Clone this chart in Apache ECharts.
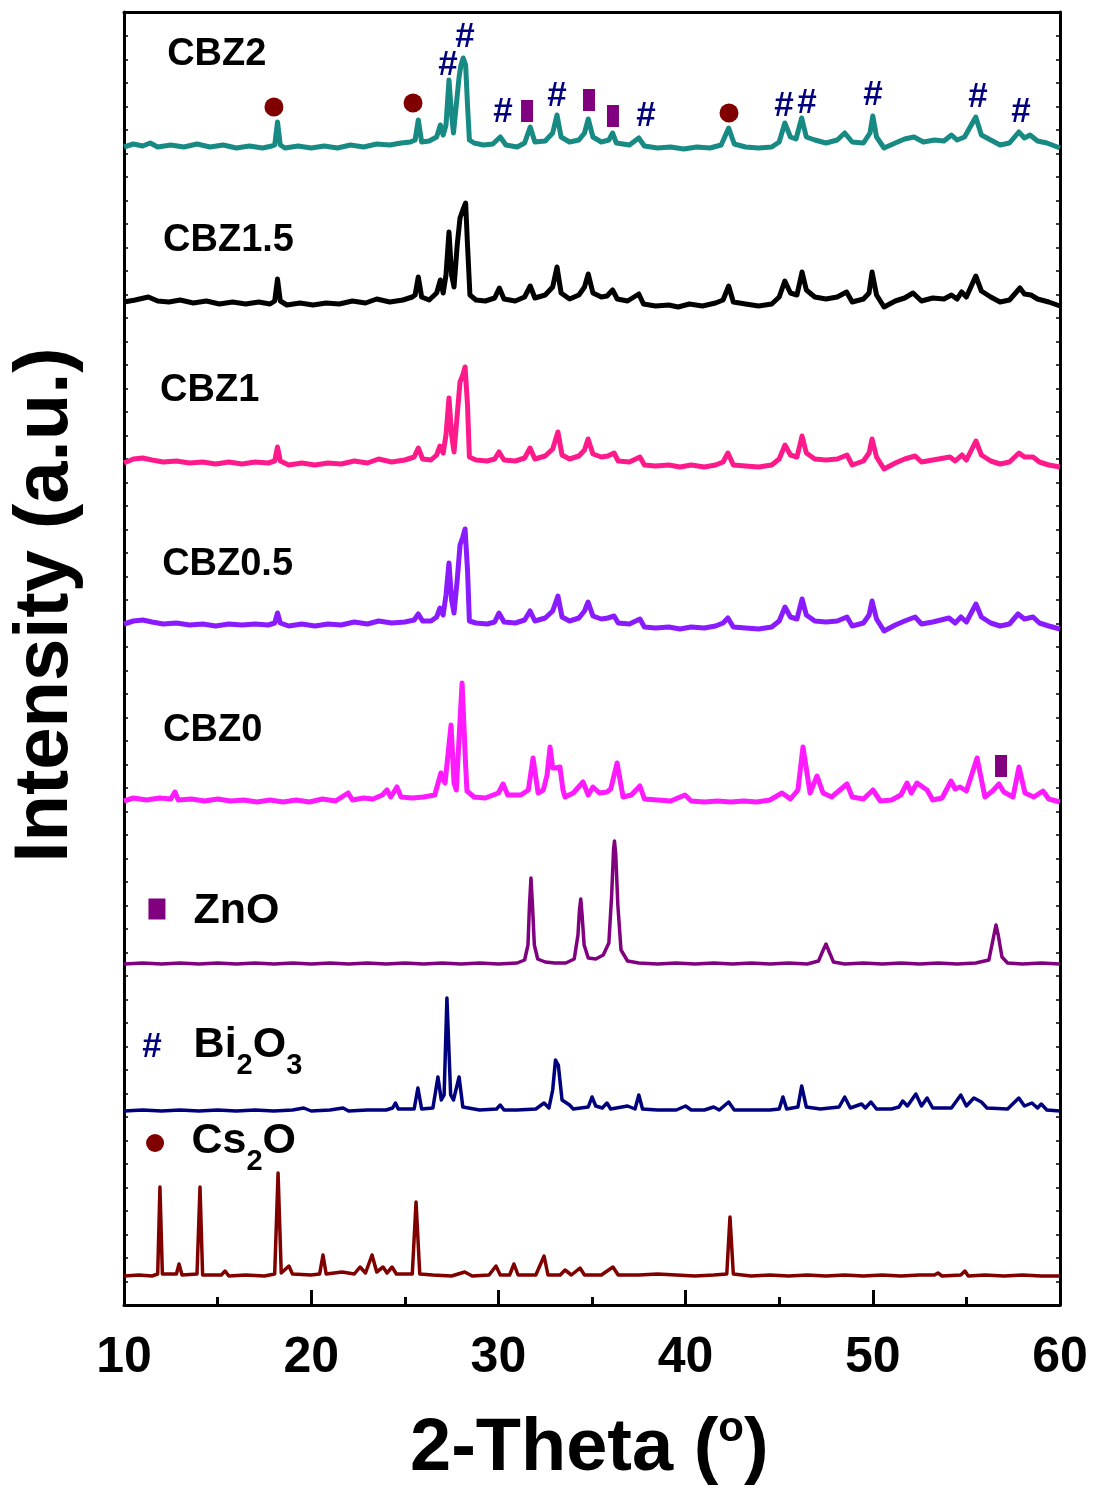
<!DOCTYPE html>
<html><head><meta charset="utf-8">
<script src="https://cdn.jsdelivr.net/npm/echarts@6/dist/echarts.min.js"></script>
<style>html,body{margin:0;padding:0;background:#fff}#c{width:1096px;height:1494px}</style>
</head><body><div id="c"></div>
<script>
// x tick labels
const xTicks = [10, 20, 30, 40, 50, 60];
// Each trace: [2-theta, stacked intensity (a.u.)]
const cbz2 = [[10.0,1158],[10.5,1161],[11.0,1159],[11.4,1162],[11.8,1158],[12.5,1160],[13.2,1158],[13.9,1161],[14.6,1158],[15.3,1160],[16.0,1157],[16.7,1159],[17.4,1157],[17.9,1159],[18.05,1160],[18.2,1183],[18.35,1160],[18.6,1157],[19.3,1159],[20.0,1157],[20.7,1159],[21.4,1157],[22.1,1160],[22.8,1158],[23.5,1161],[24.2,1160],[24.8,1162],[25.3,1163],[25.55,1165],[25.72,1185],[25.9,1163],[26.3,1164],[26.7,1168],[26.9,1180],[27.05,1170],[27.2,1180],[27.36,1225],[27.5,1190],[27.6,1172],[27.75,1200],[27.9,1228],[28.0,1240],[28.12,1247],[28.25,1240],[28.35,1200],[28.45,1165],[28.7,1162],[29.2,1160],[29.7,1161],[30.1,1168],[30.4,1160],[31.0,1158],[31.4,1162],[31.7,1178],[31.95,1163],[32.5,1164],[32.9,1172],[33.13,1190],[33.35,1168],[33.8,1163],[34.3,1165],[34.6,1172],[34.8,1186],[35.05,1168],[35.5,1163],[35.9,1165],[36.1,1172],[36.3,1162],[37.0,1160],[37.5,1167],[37.8,1159],[38.5,1157],[39.2,1158],[39.9,1156],[40.6,1158],[41.3,1157],[41.9,1160],[42.3,1177],[42.6,1161],[43.2,1158],[43.9,1157],[44.6,1158],[45.0,1163],[45.3,1182],[45.6,1168],[45.9,1166],[46.2,1187],[46.45,1168],[46.9,1165],[47.5,1162],[48.1,1165],[48.5,1172],[48.9,1163],[49.5,1162],[49.85,1172],[50.0,1189],[50.2,1168],[50.6,1157],[51.2,1162],[51.7,1166],[52.2,1168],[52.7,1163],[53.3,1165],[53.8,1164],[54.2,1170],[54.5,1165],[54.9,1168],[55.5,1188],[55.8,1170],[56.3,1165],[56.8,1160],[57.3,1162],[57.8,1173],[58.1,1167],[58.4,1170],[58.8,1164],[59.3,1162],[60.0,1157]];
const cbz15 = [[10.0,1003],[10.6,1005],[11.3,1008],[11.8,1004],[12.4,1003],[13.0,1005],[13.7,1002],[14.4,1004],[15.1,1001],[15.8,1003],[16.5,1001],[17.2,1003],[17.8,1001],[18.05,1004],[18.2,1026],[18.35,1004],[18.7,1000],[19.4,1002],[20.1,1000],[20.8,1002],[21.5,1001],[22.2,1004],[22.9,1002],[23.5,1006],[24.2,1003],[24.9,1005],[25.4,1008],[25.55,1010],[25.72,1028],[25.9,1008],[26.3,1005],[26.7,1012],[26.9,1025],[27.05,1012],[27.2,1030],[27.36,1073],[27.5,1030],[27.63,1018],[27.8,1060],[27.95,1087],[28.1,1095],[28.25,1102],[28.35,1060],[28.48,1010],[28.8,1005],[29.3,1004],[29.8,1007],[30.05,1017],[30.3,1006],[30.9,1004],[31.4,1008],[31.7,1019],[31.95,1007],[32.5,1010],[32.9,1018],[33.13,1038],[33.35,1012],[33.8,1006],[34.3,1010],[34.6,1018],[34.8,1031],[35.05,1012],[35.5,1008],[35.8,1009],[36.1,1015],[36.35,1006],[36.9,1004],[37.5,1011],[37.75,1001],[38.4,999],[39.1,1000],[39.6,998],[40.2,1001],[40.9,999],[41.6,1002],[42.0,1005],[42.3,1019],[42.55,1003],[43.2,1001],[43.9,999],[44.6,1001],[45.0,1008],[45.3,1024],[45.6,1012],[45.95,1010],[46.22,1033],[46.45,1015],[46.9,1008],[47.5,1006],[48.1,1008],[48.6,1013],[48.9,1003],[49.5,1006],[49.8,1012],[49.96,1033],[50.2,1010],[50.6,998],[51.2,1004],[51.7,1007],[52.15,1012],[52.6,1004],[53.2,1007],[53.8,1006],[54.2,1010],[54.5,1006],[54.75,1013],[55.0,1008],[55.5,1029],[55.8,1014],[56.3,1008],[56.8,1003],[57.3,1005],[57.86,1017],[58.1,1011],[58.45,1010],[58.8,1006],[59.4,1003],[60.0,999]];
const cbz1 = [[10.0,842],[10.5,846],[11.0,847],[11.5,845],[12.1,843],[12.8,844],[13.5,842],[14.2,843],[14.9,841],[15.6,843],[16.3,841],[17.0,843],[17.7,842],[18.05,844],[18.2,858],[18.35,844],[18.8,840],[19.5,842],[20.2,840],[20.9,842],[21.6,841],[22.3,844],[23.0,842],[23.6,846],[24.3,843],[25.0,845],[25.5,848],[25.72,857],[25.95,846],[26.4,845],[26.7,850],[26.88,859],[27.05,852],[27.2,870],[27.36,907],[27.5,870],[27.63,853],[27.8,890],[27.95,923],[28.1,930],[28.22,938],[28.35,900],[28.45,848],[28.8,845],[29.4,844],[29.8,846],[30.03,853],[30.3,845],[30.9,844],[31.4,847],[31.69,857],[31.95,846],[32.5,849],[32.9,856],[33.18,873],[33.4,850],[33.8,846],[34.3,849],[34.6,855],[34.79,866],[35.05,851],[35.5,848],[35.85,849],[36.18,852],[36.4,844],[37.0,843],[37.56,848],[37.8,840],[38.4,839],[39.1,840],[39.7,838],[40.3,840],[41.0,838],[41.6,840],[42.0,843],[42.26,852],[42.55,840],[43.2,839],[43.9,838],[44.6,840],[45.0,846],[45.31,860],[45.6,850],[45.95,848],[46.22,869],[46.45,852],[46.9,846],[47.5,845],[48.1,846],[48.62,850],[48.9,840],[49.5,844],[49.8,852],[49.96,866],[50.2,848],[50.6,836],[51.2,842],[51.7,846],[52.26,849],[52.6,843],[53.2,845],[54.12,848],[54.4,844],[54.76,850],[55.0,845],[55.51,864],[55.8,850],[56.3,844],[56.8,841],[57.3,843],[57.81,852],[58.1,848],[58.56,848],[58.9,843],[59.4,840],[60.0,838]];
const cbz05 = [[10.0,681],[10.5,684],[11.0,685],[11.5,683],[12.1,681],[12.8,682],[13.5,680],[14.2,681],[14.9,679],[15.6,681],[16.3,680],[17.0,681],[17.7,680],[18.05,682],[18.2,692],[18.35,682],[18.8,679],[19.5,681],[20.2,679],[20.9,681],[21.6,680],[22.3,683],[23.0,681],[23.6,684],[24.3,682],[25.0,683],[25.5,685],[25.72,691],[25.95,684],[26.4,684],[26.7,688],[26.88,697],[27.05,690],[27.2,710],[27.36,742],[27.5,705],[27.63,692],[27.8,725],[27.95,760],[28.1,768],[28.22,776],[28.35,735],[28.45,684],[28.8,682],[29.4,681],[29.8,683],[30.03,692],[30.3,683],[30.9,682],[31.4,685],[31.69,694],[31.95,684],[32.5,687],[32.9,694],[33.18,709],[33.4,688],[33.8,684],[34.3,687],[34.6,694],[34.79,703],[35.05,689],[35.5,686],[35.85,687],[36.18,689],[36.4,682],[37.0,681],[37.56,686],[37.8,678],[38.4,677],[39.1,678],[39.7,676],[40.3,678],[41.0,677],[41.6,679],[42.0,682],[42.26,687],[42.55,678],[43.2,677],[43.9,676],[44.6,678],[45.0,684],[45.31,698],[45.6,688],[45.95,686],[46.22,706],[46.45,690],[46.9,684],[47.5,683],[48.1,684],[48.62,688],[48.9,679],[49.5,682],[49.8,690],[49.96,704],[50.2,686],[50.6,674],[51.2,680],[51.7,684],[52.26,688],[52.6,681],[53.2,683],[54.07,687],[54.4,682],[54.71,688],[55.0,683],[55.51,701],[55.8,688],[56.3,682],[56.8,679],[57.3,681],[57.76,691],[58.1,686],[58.56,688],[58.9,682],[59.4,679],[60.0,676]];
const cbz0 = [[10.0,504],[10.5,507],[11.2,505],[11.9,507],[12.5,506],[12.72,513],[12.9,505],[13.6,506],[14.3,504],[15.0,506],[15.7,504],[16.4,505],[17.1,503],[17.8,505],[18.5,503],[19.2,505],[19.9,503],[20.6,506],[21.3,504],[21.97,512],[22.2,505],[22.8,507],[23.3,506],[23.8,510],[24.05,515],[24.25,508],[24.58,518],[24.8,508],[25.4,507],[26.0,508],[26.6,510],[26.93,532],[27.05,525],[27.15,522],[27.47,580],[27.63,522],[27.75,515],[28.06,622],[28.25,540],[28.32,514],[28.7,508],[29.3,507],[30.0,512],[30.25,521],[30.5,510],[31.2,510],[31.6,515],[31.85,547],[32.12,512],[32.4,515],[32.6,530],[32.76,558],[32.9,537],[33.02,537],[33.29,538],[33.45,515],[33.56,508],[34.0,512],[34.52,523],[34.8,510],[35.05,518],[35.4,512],[35.8,513],[36.0,516],[36.34,542],[36.66,508],[37.1,510],[37.56,519],[37.8,506],[38.5,505],[39.2,504],[39.97,510],[40.3,504],[41.0,503],[41.7,504],[42.4,503],[43.1,504],[43.8,503],[44.5,505],[45.15,512],[45.6,506],[46.0,515],[46.27,558],[46.65,512],[47.02,529],[47.34,512],[47.8,508],[48.62,521],[48.9,508],[49.5,506],[50.01,515],[50.4,504],[51.0,505],[51.5,510],[51.83,522],[52.05,512],[52.36,522],[52.9,515],[53.2,505],[53.7,507],[54.18,524],[54.4,516],[54.66,518],[55.0,514],[55.57,547],[55.99,508],[56.4,514],[56.74,521],[57.0,513],[57.49,508],[57.81,538],[58.13,512],[58.6,508],[59.09,514],[59.4,506],[60.0,503]];
const zno = [[10,341],[11,342],[12,341],[13,342],[14,341],[15,342],[16,341],[17,342],[18,341],[19,342],[20,341],[21,342],[22,341],[23,342],[24,341],[25,342],[26,341],[27,342],[28,341],[29,342],[30,341],[31,342],[31.4,345],[31.58,360],[31.66,400],[31.74,427],[31.82,400],[31.92,360],[32.1,346],[32.5,343],[33,342],[33.6,342],[34.05,346],[34.25,370],[34.33,395],[34.4,406],[34.47,390],[34.58,360],[34.8,347],[35.2,346],[35.6,350],[35.9,362],[36.05,410],[36.15,455],[36.2,464],[36.27,450],[36.38,400],[36.55,355],[36.9,344],[37.5,342],[38.5,341],[39.5,342],[40.5,341],[41.5,342],[42.5,341],[43.5,342],[44.5,341],[45.5,342],[46.5,341],[47.1,344],[47.35,355],[47.5,361],[47.65,354],[47.9,343],[48.5,341],[49.5,342],[50.5,341],[51.5,342],[52.5,341],[53.5,342],[54.5,341],[55.5,342],[56.2,345],[56.45,368],[56.58,380],[56.7,370],[56.9,348],[57.2,342],[58,341],[59,342],[60,341]];
const bi2o3 = [[10,194],[11,195],[12,194],[13,195],[14,194],[15,195],[16,194],[17,195],[18,194],[19,195],[19.6,197],[20,194],[21,195],[21.7,197],[22,194],[23,195],[24,195],[24.35,197],[24.5,202],[24.65,196],[25.5,196],[25.7,217],[25.9,196],[26.5,197],[26.77,228],[26.95,205],[27.1,210],[27.25,307],[27.45,210],[27.6,205],[27.9,228],[28.1,198],[29,195],[29.9,196],[30.1,200],[30.3,195],[31,195],[32,196],[32.44,202],[32.7,197],[32.9,215],[33.05,245],[33.2,240],[33.4,205],[33.8,200],[34.0,196],[34.8,198],[35.0,208],[35.2,199],[35.55,197],[35.8,202],[36.0,196],[36.9,199],[37.3,196],[37.5,210],[37.7,196],[38.5,195],[39.5,195],[40.0,199],[40.3,195],[41.0,195],[41.5,198],[41.8,195],[42.3,203],[42.6,195],[43.5,195],[44.5,195],[45.0,196],[45.2,208],[45.4,196],[46.0,198],[46.2,219],[46.45,198],[47.2,196],[48.2,198],[48.5,208],[48.8,197],[49.4,201],[49.6,197],[49.9,203],[50.2,196],[51.0,196],[51.4,198],[51.6,204],[51.85,199],[52.3,211],[52.6,199],[52.9,207],[53.2,197],[54.2,197],[54.7,210],[55.0,199],[55.4,207],[55.8,203],[56.1,197],[57.2,196],[57.8,207],[58.1,199],[58.5,202],[58.8,197],[59.0,201],[59.3,195],[60,194]];
const cs2o = [[10,29],[10.8,30],[11.5,29],[11.8,31],[11.92,118],[12.05,31],[12.8,31],[12.94,41],[13.1,30],[13.9,31],[14.06,118],[14.2,30],[15.2,30],[15.4,34],[15.6,29],[16.5,30],[17.5,29],[18.05,31],[18.23,132],[18.4,32],[18.81,39],[19.0,31],[20.0,30],[20.45,31],[20.63,50],[20.8,31],[21.65,33],[22.3,31],[22.61,38],[22.9,32],[23.25,50],[23.5,33],[23.84,38],[24.05,32],[24.32,38],[24.55,31],[25.4,31],[25.6,103],[25.8,31],[26.5,30],[27.5,29],[28.2,33],[28.6,29],[29.5,30],[29.87,39],[30.1,30],[30.6,30],[30.83,41],[31.05,30],[32.0,30],[32.44,49],[32.65,30],[33.3,30],[33.56,35],[33.9,30],[34.36,37],[34.6,30],[35.5,30],[36.12,38],[36.4,30],[37.5,30],[38.5,31],[39.5,30],[40.5,29],[41.5,30],[42.2,31],[42.37,88],[42.55,31],[43.5,29],[44.5,30],[45.5,29],[46.5,30],[47.5,29],[48.5,30],[49.5,29],[50.5,30],[51.5,29],[52.5,30],[53.3,30],[53.48,32],[53.7,29],[54.7,30],[54.92,34],[55.1,29],[56,30],[57,29],[58,30],[59,29],[60,29]];
// Phase marker positions [2-theta, intensity]
const circleMarks = [[18.01,1198],[25.44,1202],[42.32,1192]];
const hashMarks = [[27.31,1240],[28.22,1268],[30.25,1193],[33.13,1209],[37.88,1189],[45.26,1199],[46.49,1202],[50.01,1210],[55.62,1208],[57.92,1193]];
const squareMarks = [[31.53,1194],[34.84,1205],[36.12,1189],[56.85,539]];
// Sample name labels [2-theta, intensity, text]
const sampleLabels = [[12.28,1250,'CBZ2'],[12.06,1064,'CBZ1.5'],[11.90,914,'CBZ1'],[12.01,740,'CBZ0.5'],[12.06,574,'CBZ0']];
// Reference legend [2-theta, intensity]
const legSquare = [[11.76,396]];
const legHash = [[11.5,258]];
const legCircle = [[11.66,162]];
const refLabels = [[13.69,394,'{b|ZnO}'],[13.69,260,'{b|Bi}{s|2}{b|O}{s|3}'],[13.58,164,'{b|Cs}{s|2}{b|O}']];

const traces = [
  ['CBZ2', cbz2, '#178a84', 5],
  ['CBZ1.5', cbz15, '#000000', 5],
  ['CBZ1', cbz1, '#ff1a8c', 5],
  ['CBZ0.5', cbz05, '#8a1aff', 5],
  ['CBZ0', cbz0, '#ff1aff', 5],
  ['ZnO', zno, '#800080', 3.5],
  ['Bi2O3', bi2o3, '#00007f', 3.5],
  ['Cs2O', cs2o, '#800000', 3.5]
];
const FONT = 'Liberation Sans, Arial, sans-serif';
const chart = echarts.init(document.getElementById('c'), null, {renderer: 'canvas'});
const series = traces.map(t => ({
  name: t[0], type: 'line', data: t[1], showSymbol: false, symbol: 'none',
  lineStyle: {color: t[2], width: t[3], join: 'round'}, itemStyle: {color: t[2]}, z: 2, animation: false
}));
const hidden = {color: 'rgba(0,0,0,0)', opacity: 1};
function textSeries(data, label) {
  return {type: 'scatter', data: data, symbol: 'circle', symbolSize: 1, itemStyle: hidden, z: 6, animation: false, silent: true, label: label};
}
const hashLabel = {show: true, position: 'inside', formatter: '#', color: '#00007f', fontSize: 35, fontWeight: 'bold', fontFamily: FONT};
series.push({type: 'scatter', data: circleMarks, symbol: 'circle', symbolSize: 19, itemStyle: {color: '#800000', opacity: 1}, z: 5, animation: false});
series.push({type: 'scatter', data: squareMarks, symbol: 'rect', symbolSize: [12, 22], itemStyle: {color: '#800080', opacity: 1}, z: 5, animation: false});
series.push(textSeries(hashMarks, hashLabel));
series.push({type: 'scatter', data: legSquare, symbol: 'rect', symbolSize: [17, 21], itemStyle: {color: '#800080', opacity: 1}, z: 5, animation: false});
series.push({type: 'scatter', data: legCircle, symbol: 'circle', symbolSize: 18, itemStyle: {color: '#800000', opacity: 1}, z: 5, animation: false});
series.push(textSeries(legHash, hashLabel));
series.push(textSeries(sampleLabels, {show: true, position: 'right', distance: 0, formatter: p => p.data[2], color: '#000', fontSize: 38, fontWeight: 'bold', fontFamily: FONT}));
series.push(textSeries(refLabels, {show: true, position: 'right', distance: 0, formatter: p => p.data[2],
    rich: {b: {fontSize: 43, fontWeight: 'bold', color: '#000', fontFamily: FONT},
           s: {fontSize: 29, fontWeight: 'bold', color: '#000', fontFamily: FONT, padding: [42, 0, 0, 0]}}}));

chart.setOption({
  backgroundColor: '#fff',
  animation: false,
  grid: {left: 124, right: 36, top: 12, bottom: 189},
  xAxis: [{
    type: 'value', min: 10, max: 60, interval: 10, position: 'bottom',
    axisLine: {show: true, onZero: false, lineStyle: {color: '#000', width: 3}},
    axisTick: {show: true, inside: true, length: 15, lineStyle: {color: '#000', width: 3}},
    minorTick: {show: true, splitNumber: 2, length: 8, lineStyle: {color: '#000', width: 3}},
    axisLabel: {show: true, margin: 28, color: '#000', fontSize: 50, fontWeight: 'bold', fontFamily: FONT,
      formatter: v => xTicks.includes(v) ? String(v) : ''},
    splitLine: {show: false}
  }, {
    type: 'value', min: 10, max: 60, position: 'top',
    axisLine: {show: true, onZero: false, lineStyle: {color: '#000', width: 3}},
    axisTick: {show: false}, axisLabel: {show: false}, splitLine: {show: false}
  }],
  yAxis: [{
    type: 'value', min: 0, max: 1293, interval: 23.5, position: 'left',
    axisLine: {show: true, onZero: false, lineStyle: {color: '#000', width: 3}},
    axisTick: {show: true, inside: true, length: 4, lineStyle: {color: '#000', width: 1.5}},
    axisLabel: {show: false}, splitLine: {show: false}
  }, {
    type: 'value', min: 0, max: 1293, interval: 23.5, position: 'right',
    axisLine: {show: true, onZero: false, lineStyle: {color: '#000', width: 3}},
    axisTick: {show: true, inside: true, length: 4, lineStyle: {color: '#000', width: 1.5}},
    axisLabel: {show: false}, splitLine: {show: false}
  }],
  graphic: [{
    type: 'text', left: 410, top: 1408,
    style: {text: '{m|2-Theta (}{u|o}{m|)}', rich: {
      m: {fontSize: 74, fontWeight: 'bold', fontFamily: FONT, fill: '#000'},
      u: {fontSize: 42, fontWeight: 'bold', fontFamily: FONT, fill: '#000', padding: [0, 0, 42, 0]}}}
  }, {
    type: 'text', x: 8, y: 605, rotation: Math.PI / 2,
    style: {text: 'Intensity (a.u.)', fontSize: 76, fontWeight: 'bold', fontFamily: FONT, fill: '#000', align: 'center', verticalAlign: 'top'}
  }],
  series: series
});
</script></body></html>
